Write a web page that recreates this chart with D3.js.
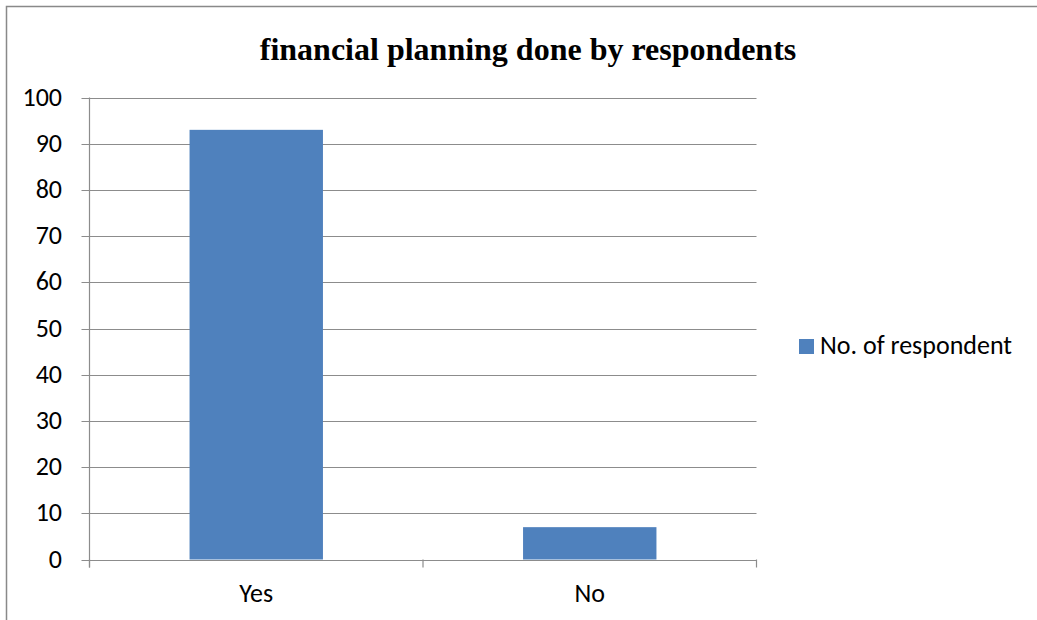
<!DOCTYPE html>
<html>
<head>
<meta charset="utf-8">
<script src="https://cdn.jsdelivr.net/npm/d3@7"></script>
<style>
  body { margin: 0; background: #fff; }
  svg text { font-family: Carlito, Lato, "Open Sans", sans-serif; }
</style>
</head>
<body>
<div id="chart"></div>
<script>
// chart data
var categories = ["Yes", "No"];
var values = [93, 7];
var seriesName = "No. of respondent";
var yTicks = [0, 10, 20, 30, 40, 50, 60, 70, 80, 90, 100];
var title = "financial planning done by respondents";

var width = 1037, height = 620;
var svg = d3.select("#chart").append("svg").attr("width", width).attr("height", height);

// outer chart border (left and top visible)
svg.append("rect")
  .attr("x", 6.5).attr("y", 6.5)
  .attr("width", 1040).attr("height", 640)
  .attr("fill", "none").attr("stroke", "#898989").attr("stroke-width", 1.5);

var plotLeft = 89.5, plotRight = 756.5, plotTop = 97.5, plotBottom = 559.5;

var x = d3.scaleBand().domain(categories).range([plotLeft, plotRight]).paddingInner(0.6).paddingOuter(0.3);
var y = d3.scaleLinear().domain([0, 100]).range([plotBottom, plotTop]);

// gridlines
svg.append("g").selectAll("line").data(yTicks).enter().append("line")
  .attr("x1", plotLeft - 8).attr("x2", plotRight)
  .attr("y1", function(d) { return Math.round(y(d)) + 0.5; })
  .attr("y2", function(d) { return Math.round(y(d)) + 0.5; })
  .attr("stroke", "#8c8c8c").attr("stroke-width", 1.2);

// bars
svg.append("g").selectAll("rect").data(values).enter().append("rect")
  .attr("x", function(d, i) { return x(categories[i]); })
  .attr("width", x.bandwidth())
  .attr("y", function(d) { return y(d); })
  .attr("height", function(d) { return y(0) - y(d); })
  .attr("fill", "#4f81bd");

// y axis line
svg.append("line").attr("x1", plotLeft).attr("x2", plotLeft).attr("y1", plotTop).attr("y2", plotBottom + 8)
  .attr("stroke", "#8c8c8c").attr("stroke-width", 1.2);

// x axis ticks at category boundaries
var xb = [plotLeft, (plotLeft + plotRight) / 2, plotRight];
svg.append("g").selectAll("line").data(xb).enter().append("line")
  .attr("x1", function(d) { return d; }).attr("x2", function(d) { return d; })
  .attr("y1", plotBottom).attr("y2", plotBottom + 8)
  .attr("stroke", "#8c8c8c").attr("stroke-width", 1.2);

// y tick labels
svg.append("g").selectAll("text").data(yTicks).enter().append("text")
  .attr("x", 62).attr("y", function(d) { return y(d) + 8; })
  .attr("text-anchor", "end").attr("font-size", 26).attr("fill", "#000")
  .text(function(d) { return d; });

// x labels
svg.append("g").selectAll("text").data(categories).enter().append("text")
  .attr("x", function(d) { return x(d) + x.bandwidth() / 2; })
  .attr("y", 602)
  .attr("text-anchor", "middle").attr("font-size", 26).attr("fill", "#000")
  .text(function(d) { return d; });

// title
svg.append("text").attr("x", 528).attr("y", 60)
  .attr("text-anchor", "middle")
  .style("font-family", "'Liberation Serif', 'Times New Roman', serif")
  .attr("font-size", 32).attr("font-weight", "bold")
  .text(title);

// legend
svg.append("rect").attr("x", 799).attr("y", 339).attr("width", 15).attr("height", 15).attr("fill", "#4f81bd");
svg.append("text").attr("x", 820).attr("y", 354).attr("font-size", 26).attr("fill", "#000").text(seriesName);
</script>
</body>
</html>
